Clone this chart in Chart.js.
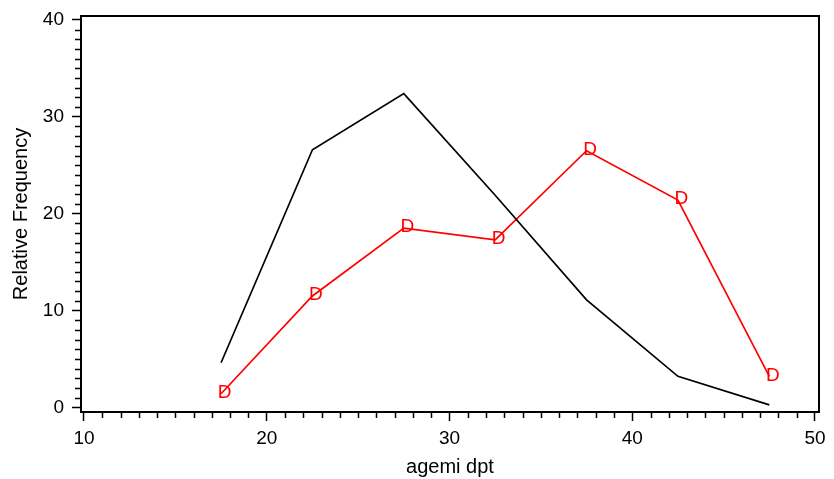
<!DOCTYPE html>
<html>
<head>
<meta charset="utf-8">
<script src="https://cdn.jsdelivr.net/npm/chart.js@4/dist/chart.umd.min.js"></script>
<style>
  html, body { margin: 0; padding: 0; background: #fff; }
  #wrap { width: 834px; height: 479px; }
</style>
</head>
<body>
<div id="wrap"><canvas id="chart" width="834" height="479"></canvas></div>
<script>
// Age-group midpoints and relative frequencies (%)
const ageMidpoints = [17.5, 22.5, 27.5, 32.5, 37.5, 42.5, 47.5];
const allFreq      = [4.6, 26.6, 32.4, 21.9, 11.1, 3.2, 0.25];
const groupDFreq   = [1.4, 11.5, 18.5, 17.3, 26.5, 21.4, 3.2];

// Axis ticks
const xMajorTicks = [10, 20, 30, 40, 50];
const yMajorTicks = [0, 10, 20, 30, 40];
const xMinorStep = 1;
const yMinorStep = 1;

const FONT = "'Liberation Sans', Arial, Helvetica, sans-serif";

const toPoints = (xs, ys) => xs.map((x, i) => ({ x: x, y: ys[i] }));

// Box around the plot area plus the short minor tick marks
const framePlugin = {
  id: 'frameAndMinorTicks',
  afterDraw(chart) {
    const { ctx, chartArea: a, scales } = chart;
    const xs = scales.x, ys = scales.y;
    ctx.save();
    ctx.strokeStyle = '#000';
    ctx.lineWidth = 1.5;
    ctx.beginPath();
    for (let v = xMajorTicks[0]; v <= xMajorTicks[xMajorTicks.length - 1]; v += xMinorStep) {
      if (xMajorTicks.includes(v)) continue;
      const px = Math.round(xs.getPixelForValue(v)) + 0.5;
      ctx.moveTo(px, a.bottom);
      ctx.lineTo(px, a.bottom + 6);
    }
    for (let v = yMajorTicks[0]; v <= yMajorTicks[yMajorTicks.length - 1]; v += yMinorStep) {
      if (yMajorTicks.includes(v)) continue;
      const py = Math.round(ys.getPixelForValue(v)) + 0.5;
      ctx.moveTo(a.left, py);
      ctx.lineTo(a.left - 6, py);
    }
    ctx.stroke();
    ctx.lineWidth = 2;
    ctx.strokeRect(a.left, a.top, a.right - a.left, a.bottom - a.top);
    ctx.restore();
  }
};

// Letter "D" symbol drawn at each point of the group D series
const letterMarkerPlugin = {
  id: 'letterMarkers',
  afterDatasetsDraw(chart) {
    const { ctx } = chart;
    chart.data.datasets.forEach((ds, i) => {
      if (!ds.symbolText) return;
      const meta = chart.getDatasetMeta(i);
      ctx.save();
      ctx.fillStyle = ds.borderColor;
      ctx.font = '19px ' + FONT;
      ctx.textAlign = 'center';
      ctx.textBaseline = 'middle';
      meta.data.forEach(pt => {
        ctx.fillText(ds.symbolText, pt.x + 3.5, pt.y - 1);
      });
      ctx.restore();
    });
  }
};

const setTicks = values => scale => {
  scale.ticks = values.map(v => ({ value: v }));
};

new Chart(document.getElementById('chart'), {
  type: 'line',
  data: {
    datasets: [
      {
        label: 'All',
        data: toPoints(ageMidpoints, allFreq),
        borderColor: '#000000',
        borderWidth: 1.7,
        pointRadius: 0,
        tension: 0,
        fill: false
      },
      {
        label: 'D',
        data: toPoints(ageMidpoints, groupDFreq),
        borderColor: '#ff0000',
        borderWidth: 1.7,
        pointRadius: 0,
        tension: 0,
        fill: false,
        symbolText: 'D'
      }
    ]
  },
  options: {
    responsive: false,
    animation: false,
    events: [],
    layout: { padding: { top: 16, right: 15, bottom: 0, left: 0 } },
    plugins: {
      legend: { display: false },
      tooltip: { enabled: false }
    },
    scales: {
      x: {
        type: 'linear',
        min: 9.836,
        max: 50.219,
        afterBuildTicks: setTicks(xMajorTicks),
        afterFit(scale) {
          scale.height = 67;
          scale.paddingLeft = 0;
          scale.paddingRight = 0;
        },
        grid: {
          display: true,
          drawOnChartArea: false,
          drawTicks: true,
          tickLength: 9,
          tickWidth: 1.5,
          tickColor: '#000'
        },
        border: { display: false },
        ticks: {
          padding: 6,
          color: '#000',
          font: { family: FONT, size: 19 },
          maxRotation: 0,
          autoSkip: false
        },
        title: {
          display: true,
          text: 'agemi dpt',
          color: '#000',
          font: { family: FONT, size: 20 },
          padding: { top: 0, bottom: 0 }
        }
      },
      y: {
        type: 'linear',
        min: -0.485,
        max: 40.41,
        afterBuildTicks: setTicks(yMajorTicks),
        afterFit(scale) {
          scale.width = 81;
          scale.paddingTop = 0;
          scale.paddingBottom = 0;
        },
        grid: {
          display: true,
          drawOnChartArea: false,
          drawTicks: true,
          tickLength: 9,
          tickWidth: 1.5,
          tickColor: '#000'
        },
        border: { display: false },
        ticks: {
          padding: 8,
          color: '#000',
          font: { family: FONT, size: 19 },
          autoSkip: false
        },
        title: {
          display: true,
          text: 'Relative Frequency',
          color: '#000',
          font: { family: FONT, size: 20 },
          padding: { top: 9, bottom: 0 }
        }
      }
    }
  },
  plugins: [framePlugin, letterMarkerPlugin]
});
</script>
</body>
</html>
